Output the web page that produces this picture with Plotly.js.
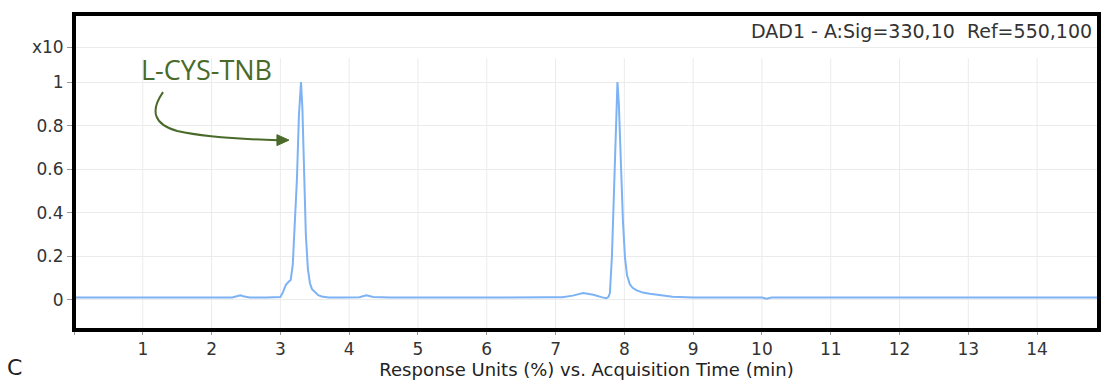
<!DOCTYPE html>
<html>
<head>
<meta charset="utf-8">
<script src="https://cdn.plot.ly/plotly-3.0.1.min.js"></script>
<style>html,body{margin:0;padding:0;background:#fff;}#chart{width:1101px;height:380px;}</style>
</head>
<body>
<div id="chart"></div>
<script>
// Acquisition time (min)
const time = [0, 0.5, 1.0, 1.5, 2.0, 2.3, 2.38, 2.42, 2.46, 2.55, 2.8, 2.95, 3.0, 3.04, 3.08, 3.12, 3.15, 3.18,
  3.21, 3.24, 3.27, 3.30, 3.32, 3.34, 3.37, 3.40, 3.43, 3.46, 3.50, 3.55, 3.60, 3.70, 3.90, 4.15, 4.25, 4.35,
  4.6, 5.0, 5.5, 6.0, 6.3, 6.6, 6.9, 7.1, 7.25, 7.4, 7.55, 7.68, 7.74, 7.77, 7.79, 7.82, 7.85, 7.88, 7.90,
  7.92, 7.95, 7.98, 8.01, 8.04, 8.08, 8.12, 8.18, 8.27, 8.37, 8.52, 8.7, 9.0, 9.5, 10.0, 10.07, 10.14, 10.5,
  11, 12, 13, 14, 15];
// Response (x10 %)
const response = [0.010, 0.010, 0.010, 0.010, 0.010, 0.010, 0.016, 0.020, 0.015, 0.010, 0.010, 0.010, 0.012,
  0.035, 0.068, 0.082, 0.090, 0.160, 0.330, 0.550, 0.850, 1.000, 0.880, 0.600, 0.300, 0.140, 0.075, 0.048,
  0.034, 0.020, 0.014, 0.010, 0.010, 0.011, 0.020, 0.012, 0.010, 0.009, 0.009, 0.009, 0.010, 0.012, 0.011,
  0.011, 0.018, 0.030, 0.022, 0.010, 0.006, 0.012, 0.030, 0.200, 0.520, 0.900, 1.000, 0.900, 0.620, 0.360,
  0.190, 0.110, 0.070, 0.054, 0.042, 0.032, 0.027, 0.020, 0.013, 0.010, 0.009, 0.009, 0.004, 0.009, 0.009,
  0.009, 0.009, 0.009, 0.009, 0.009];

const xTickVals = [0, 1, 2, 3, 4, 5, 6, 7, 8, 9, 10, 11, 12, 13, 14];
const xTickText = ['', '1', '2', '3', '4', '5', '6', '7', '8', '9', '10', '11', '12', '13', '14'];
const yTickVals = [0, 0.2, 0.4, 0.6, 0.8, 1, 1.16];
const yTickText = ['0', '0.2', '0.4', '0.6', '0.8', '1', 'x10'];

const headerText = 'DAD1 - A:Sig=330,10  Ref=550,100';
const peakLabel = 'L-CYS-TNB';
const panelLabel = 'C';
const xTitle = 'Response Units (%) vs. Acquisition Time (min)';

const font = 'DejaVu Sans, Liberation Sans, Arial, sans-serif';
const tickColor = '#333';
const gridColor = '#ebebeb';

const trace = {
  x: time, y: response, type: 'scatter', mode: 'lines',
  line: {color: 'rgb(125,178,245)', width: 2}, hoverinfo: 'skip'
};

// vertical grid lines stop below the header band
const gridShapes = xTickVals.filter(v => v > 0).map(v => ({
  type: 'line', layer: 'below', xref: 'x', yref: 'y', x0: v, x1: v, y0: -0.15, y1: 1.11,
  line: {color: gridColor, width: 1}
}));

const layout = {
  width: 1101, height: 380,
  margin: {l: 74, r: 2, t: 14, b: 50},
  paper_bgcolor: '#fff', plot_bgcolor: '#fff',
  showlegend: false,
  font: {family: font, color: tickColor, size: 17},
  xaxis: {
    range: [0, 14.9], tickvals: xTickVals, ticktext: xTickText,
    ticks: 'outside', ticklen: 4, tickcolor: '#999', tickwidth: 1,
    showgrid: false, zeroline: false, showline: false,
    tickfont: {family: font, size: 17, color: tickColor},
    title: {text: xTitle, font: {family: font, size: 18, color: '#222'}, standoff: 1}
  },
  yaxis: {
    range: [-0.140, 1.313], tickvals: yTickVals, ticktext: yTickText,
    ticks: 'outside', ticklen: 6, tickcolor: '#999', tickwidth: 1,
    showgrid: true, gridcolor: gridColor, gridwidth: 1,
    zeroline: false, showline: false,
    tickfont: {family: font, size: 17, color: tickColor}
  },
  shapes: gridShapes.concat([
    {type: 'rect', layer: 'below', xref: 'paper', yref: 'y', x0: 0, x1: 1, y0: 1.12, y1: 1.2,
      fillcolor: '#fff', line: {width: 0}},
    {type: 'path', layer: 'above', xref: 'x', yref: 'y',
      path: 'M 1.294 0.954 Q 1.0 0.82 1.5 0.775 Q 2.0 0.74 2.97 0.733',
      line: {color: '#4a6a2a', width: 2}},
    {type: 'path', layer: 'above', xref: 'x', yref: 'y',
      path: 'M 3.125 0.733 L 2.95 0.758 L 2.95 0.708 Z',
      fillcolor: '#4a6a2a', line: {color: '#4a6a2a', width: 1}},
    {type: 'rect', layer: 'above', xref: 'paper', yref: 'paper', x0: 0, x1: 1, y0: 0, y1: 1,
      line: {color: '#000', width: 4}}
  ]),
  annotations: [
    {text: headerText, xref: 'paper', yref: 'paper', x: 0.995, y: 0.946, xanchor: 'right', yanchor: 'middle',
      showarrow: false, font: {family: font, size: 19, color: '#333'}},
    {text: peakLabel, xref: 'x', yref: 'y', x: 1.92, y: 1.06, xanchor: 'center', yanchor: 'middle',
      showarrow: false, font: {family: 'Open Sans, sans-serif', size: 27, color: '#4a6a2a'}},
    {text: panelLabel, xref: 'paper', yref: 'paper', x: 0, y: -0.12, xanchor: 'right', xshift: -50,
      yanchor: 'middle', showarrow: false, font: {family: font, size: 22, color: '#222'}}
  ]
};

Plotly.newPlot('chart', [trace], layout, {displayModeBar: false, staticPlot: true});
</script>
</body>
</html>
